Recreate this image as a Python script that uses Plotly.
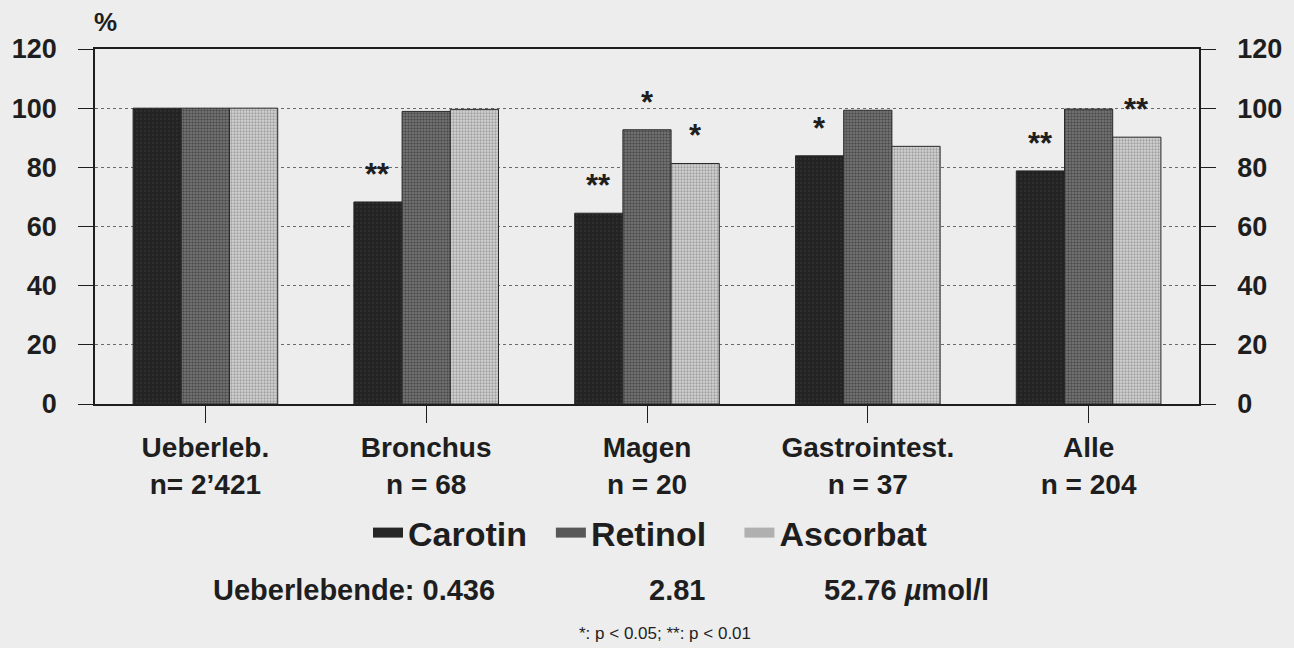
import plotly.graph_objects as go

categories = ["Ueberleb.<br>n= 2’421", "Bronchus<br>n = 68", "Magen<br>n = 20",
              "Gastrointest.<br>n = 37", "Alle<br>n = 204"]
series_names = ["Carotin", "Retinol", "Ascorbat"]
carotin = [100, 68.3, 64.5, 83.9, 78.8]
retinol = [100, 98.9, 92.7, 99.3, 99.7]
ascorbat = [100, 99.6, 81.3, 87.1, 90.2]
sig_carotin = ["", "**", "**", "*", "**"]
sig_retinol = ["", "", "*", "", ""]
sig_ascorbat = ["", "", "*", "", "**"]
ref_labels = ["Ueberlebende: 0.436", "2.81", "52.76 <i>µ</i>mol/l"]
footnote = "*: p &lt; 0.05; **: p &lt; 0.01"
y_ticks = [0, 20, 40, 60, 80, 100, 120]

FONT = "Liberation Sans, Arial, Helvetica, sans-serif"
BG = "#ededed"
INK = "#1e1e1e"

values = [carotin, retinol, ascorbat]
sigs = [sig_carotin, sig_retinol, sig_ascorbat]
styles = [
    dict(color="#262626", pattern=dict(shape=".", fgcolor="#3a3a3a", bgcolor="#222222", size=4, solidity=0.3)),
    dict(color="#585858", pattern=dict(shape=".", fgcolor="#1e1e1e", bgcolor="#7a7a7a", size=3, solidity=0.5)),
    dict(color="#b0b0b0", pattern=dict(shape=".", fgcolor="#6a6a6a", bgcolor="#d4d4d4", size=3, solidity=0.45)),
]
legend_pad = ["\u00a0\u00a0", "\u00a0\u00a0\u00a0", ""]

BARGAP = 0.345

fig = go.Figure()
for name, vals, st, pad in zip(series_names, values, styles, legend_pad):
    fig.add_trace(go.Bar(
        x=categories, y=vals, name=name,
        marker=dict(color=st["color"], pattern=st["pattern"],
                    line=dict(color="#2a2a2a", width=1)),
        showlegend=False,
    ))
    # legend proxy with a wide rectangular swatch
    fig.add_trace(go.Scatter(
        x=[None], y=[None], mode="lines", name=name + pad,
        line=dict(color=st["color"], width=16),
        showlegend=True,
    ))

# invisible trace to bring up the right-hand axis
fig.add_trace(go.Scatter(x=categories, y=carotin, yaxis="y2", mode="markers",
                         marker=dict(opacity=0), showlegend=False, hoverinfo="skip"))

# significance stars, centred on each bar using the group geometry
n = len(series_names)
bw = (1 - BARGAP) / n
annotations = []
for k, sig in enumerate(sigs):
    off = -(1 - BARGAP) / 2 + (k + 0.5) * bw
    for i, s in enumerate(sig):
        if s:
            annotations.append(dict(
                x=i + off, y=values[k][i], xref="x", yref="y", text=s,
                showarrow=False, yanchor="bottom", yshift=8,
                font=dict(family=FONT, size=31, color=INK, weight="bold"),
            ))

def px_to_paper_x(px):
    return (px - 90) / (1294 - 180)

def px_to_paper_y(py):
    return (404 - py) / (404 - 49)

ref_x = [351, 677, 909]
for txt, xx in zip(ref_labels, ref_x):
    annotations.append(dict(
        x=px_to_paper_x(xx), y=px_to_paper_y(590), xref="paper", yref="paper",
        text=txt, showarrow=False, xanchor="center", yanchor="middle",
        font=dict(family=FONT, size=29, color=INK, weight="bold"),
    ))
annotations.append(dict(
    x=px_to_paper_x(665), y=px_to_paper_y(633), xref="paper", yref="paper",
    text=footnote, showarrow=False, xanchor="center", yanchor="middle",
    font=dict(family=FONT, size=17, color=INK),
))
annotations.append(dict(
    x=px_to_paper_x(101), y=px_to_paper_y(22), xref="paper", yref="paper",
    text="%", showarrow=False, xanchor="center", yanchor="middle",
    font=dict(family=FONT, size=26, color=INK, weight="bold"),
))

fig.update_layout(
    width=1294, height=648,
    margin=dict(l=90, r=90, t=49, b=244),
    paper_bgcolor=BG, plot_bgcolor=BG,
    barmode="group", bargap=BARGAP, bargroupgap=0,
    font=dict(family=FONT, color=INK),
    annotations=annotations,
    legend=dict(orientation="h", x=px_to_paper_x(650), y=px_to_paper_y(533),
                xanchor="center", yanchor="middle",
                font=dict(family=FONT, size=34, color=INK, weight="bold"),
                bgcolor="rgba(0,0,0,0)", itemwidth=30, tracegroupgap=0),
    xaxis=dict(
        showline=True, linecolor=INK, linewidth=1.5, mirror=True,
        ticks="outside", ticklen=17, tickcolor=INK, tickwidth=1,
        tickfont=dict(family=FONT, size=28, color=INK, weight="bold"),
        ticklabelstandoff=1, showgrid=False,
    ),
    yaxis=dict(
        range=[0, 120], tickvals=y_ticks, showline=True, linecolor=INK, linewidth=1.5,
        ticks="outside", ticklen=15, tickcolor=INK, tickwidth=1,
        tickfont=dict(family=FONT, size=27, color=INK, weight="bold"),
        ticklabelstandoff=16,
        showgrid=True, gridcolor="#6a6a6a", griddash="dot", gridwidth=1,
        zeroline=False,
    ),
    yaxis2=dict(
        range=[0, 120], tickvals=y_ticks, overlaying="y", side="right",
        showline=True, linecolor=INK, linewidth=1.5,
        ticks="outside", ticklen=15, tickcolor=INK, tickwidth=1,
        tickfont=dict(family=FONT, size=27, color=INK, weight="bold"),
        ticklabelstandoff=16, showgrid=False, zeroline=False,
    ),
)

fig.write_html("out.html", config={"displayModeBar": False},
               post_script="document.body.style.margin='0';document.body.style.background='#ededed';")
